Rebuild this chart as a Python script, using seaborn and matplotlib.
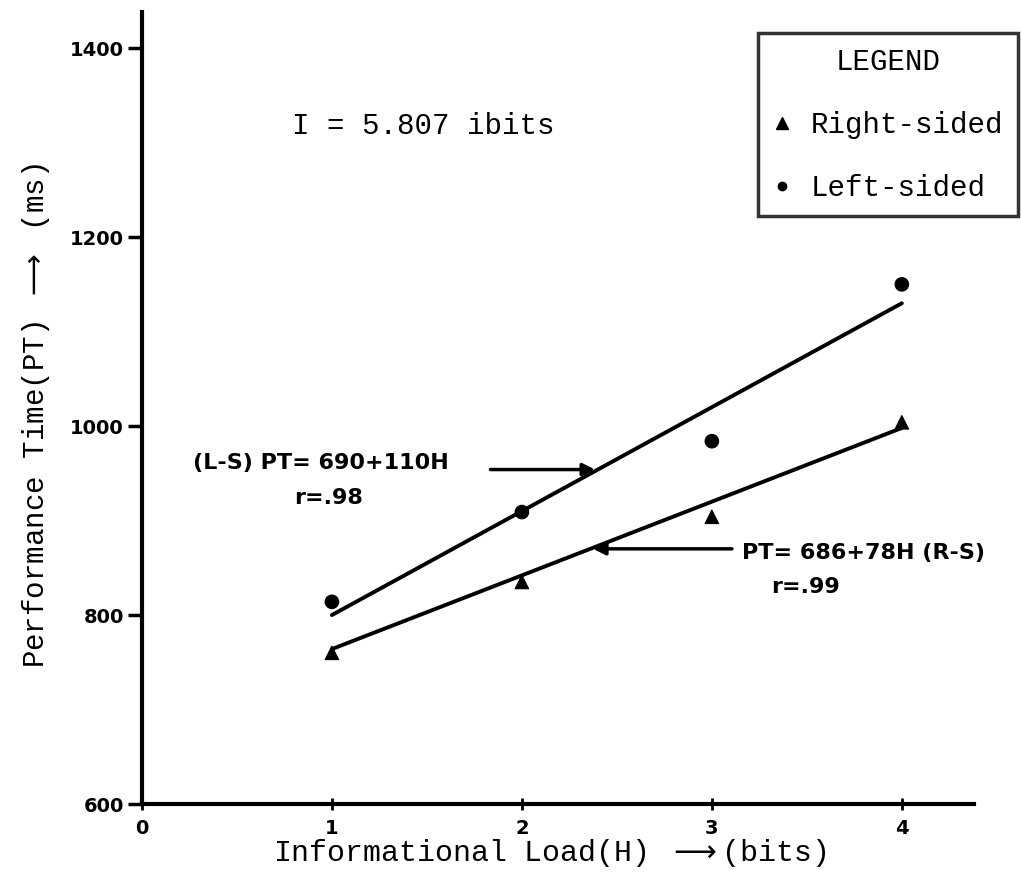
#!/usr/bin/env python3
"""Performance time vs informational load, right- vs left-sided responses."""

import matplotlib

matplotlib.use("Agg")
import matplotlib.pyplot as plt
import pandas as pd
import seaborn as sns
from matplotlib.lines import Line2D

# data
LOAD_BITS = [1, 2, 3, 4]
RIGHT_PT = [760, 835, 904, 1004]
LEFT_PT = [814, 909, 984, 1150]

# fitted lines printed on the figure: PT = a + b*H
LEFT_FIT = (690, 110)
RIGHT_FIT = (686, 78)
LEFT_R = ".98"
RIGHT_R = ".99"

X_TICKS = [0, 1, 2, 3, 4]
Y_TICKS = [600, 800, 1000, 1200, 1400]

MONO = ["Liberation Mono", "DejaVu Sans Mono", "DejaVu Sans"]
HAND = ["DejaVu Sans"]

sns.set_style("ticks")
plt.rcParams["font.family"] = MONO
plt.rcParams.update(
    {
        "text.color": "black",
        "axes.labelcolor": "black",
        "axes.edgecolor": "black",
        "xtick.color": "black",
        "ytick.color": "black",
        "mathtext.fontset": "dejavusans",
    }
)


def fit_line(coef):
    a, b = coef
    return [a + b * h for h in LOAD_BITS]


points = pd.DataFrame(
    {
        "H": LOAD_BITS * 2,
        "PT": RIGHT_PT + LEFT_PT,
        "side": ["Right-sided"] * len(LOAD_BITS) + ["Left-sided"] * len(LOAD_BITS),
    }
)
fits = pd.DataFrame(
    {
        "H": LOAD_BITS * 2,
        "PT": fit_line(RIGHT_FIT) + fit_line(LEFT_FIT),
        "side": ["Right-sided"] * len(LOAD_BITS) + ["Left-sided"] * len(LOAD_BITS),
    }
)

fig = plt.figure(figsize=(10.21, 8.73), dpi=100)
ax = fig.add_axes([0.139, 0.079, 0.815, 0.907])

sns.lineplot(
    data=fits, x="H", y="PT", units="side", estimator=None,
    color="black", lw=2.8, ax=ax, legend=False,
)
sns.scatterplot(
    data=points, x="H", y="PT", style="side",
    markers={"Right-sided": "^", "Left-sided": "o"},
    color="black", s=95, edgecolor="black", ax=ax, legend=False, zorder=3,
)

ax.set_xlim(0, 4.38)
ax.set_ylim(600, 1438)
ax.set_xticks(X_TICKS)
ax.set_yticks(Y_TICKS)
ax.set_xticklabels([str(t) for t in X_TICKS], family=HAND, fontsize=14, fontweight="bold")
ax.set_yticklabels([str(t) for t in Y_TICKS], family=HAND, fontsize=14, fontweight="bold")
ax.tick_params(axis="y", direction="out", length=10, width=2.5, pad=3)
ax.tick_params(axis="x", direction="inout", length=9, width=2, pad=6)
sns.despine(ax=ax)
for side in ("left", "bottom"):
    ax.spines[side].set_linewidth(3)

ax.set_xlabel("Informational Load(H) $\\longrightarrow$(bits)", fontsize=21.5)
ax.set_ylabel("Performance Time(PT) $\\longrightarrow$ (ms)", fontsize=21)
ax.xaxis.set_label_coords(0.49, -0.042)
ax.yaxis.set_label_coords(-0.108, 0.49)

ax.text(0.79, 1318, "I = 5.807 ibits", fontsize=21, va="center")

# left-sided fit annotation
la, lb = LEFT_FIT
lx = 2.40
ax.annotate(
    "", xy=(lx, la + lb * lx), xytext=(1.82, la + lb * lx),
    arrowprops=dict(arrowstyle="-|>", color="black", lw=2.5, mutation_scale=18),
)
ax.text(0.27, 961, f"(L-S) PT= {la}+{lb}H", family=HAND, fontsize=16,
        fontweight="bold", va="center")
ax.text(0.80, 924, f"r={LEFT_R}", family=HAND, fontsize=16,
        fontweight="bold", va="center")

# right-sided fit annotation
ra, rb = RIGHT_FIT
rx = 2.36
ax.annotate(
    "", xy=(rx, ra + rb * rx), xytext=(3.12, ra + rb * rx),
    arrowprops=dict(arrowstyle="-|>", color="black", lw=2.5, mutation_scale=18),
)
ax.text(3.16, 866, f"PT= {ra}+{rb}H (R-S)", family=HAND, fontsize=16,
        fontweight="bold", va="center")
ax.text(3.31, 830, f"r={RIGHT_R}", family=HAND, fontsize=16,
        fontweight="bold", va="center")

handles = [
    Line2D([], [], ls="none", marker="^", color="black", markersize=8),
    Line2D([], [], ls="none", marker="o", color="black", markersize=6),
]
leg = ax.legend(
    handles, ["Right-sided", "Left-sided"], title="LEGEND",
    loc="upper right", bbox_to_anchor=(0.997, 0.962), bbox_transform=fig.transFigure,
    fontsize=21, title_fontsize=21, frameon=True, fancybox=False,
    handlelength=0.6, handletextpad=0.7, labelspacing=1.2,
    borderpad=0.5, borderaxespad=0,
)
leg.get_frame().set_edgecolor("black")
leg.get_frame().set_linewidth(2.5)
leg.get_title().set_color("black")

fig.savefig("out.png", dpi=100)
